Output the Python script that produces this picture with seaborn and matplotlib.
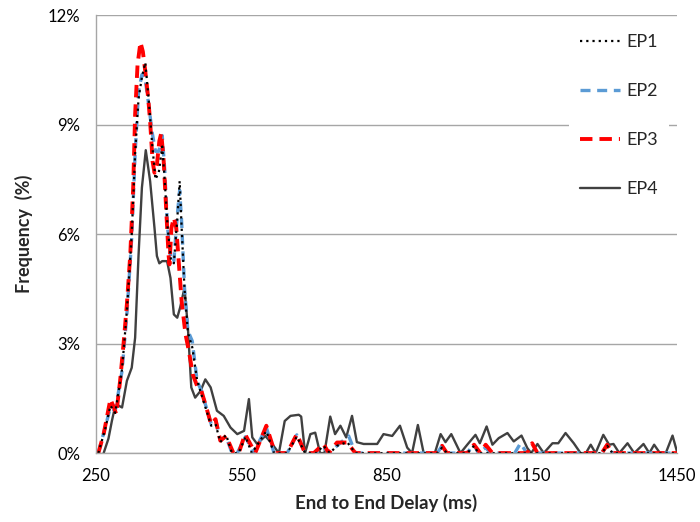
import pandas as pd
import seaborn as sns
import matplotlib.pyplot as plt
from matplotlib.ticker import FuncFormatter

# End-to-end delay (ms) vs frequency (%)
ep1_x = [255, 269, 280, 290, 304, 314, 324, 331, 338, 345, 352, 359, 366, 373, 380,
         387, 392, 398, 405, 411, 418, 423, 427, 433, 440, 449, 459, 468, 480, 488,
         497, 507, 519, 531, 545, 559, 572, 602, 618, 645, 665, 682, 705, 720, 733,
         748, 769, 786, 955, 965, 975, 1017, 1031, 1040, 1295, 1306, 1317, 1450]
ep1_y = [0, 0.65, 1.3, 1.1, 2.3, 3.9, 6.0, 8.2, 9.7, 10.3, 10.7, 9.7, 8.5, 7.5, 7.7,
         8.4, 7.5, 6.2, 5.3, 5.2, 6.4, 7.45, 6.2, 4.5, 3.3, 2.9, 2.0, 1.6, 1.1, 0.75,
         0.8, 0.3, 0.5, 0, 0, 0.45, 0, 0.6, 0, 0, 0.45, 0, 0, 0.2, 0,
         0.2, 0.3, 0, 0, 0.15, 0, 0, 0.2, 0, 0, 0.2, 0, 0]

ep2_x = [255, 269, 280, 290, 304, 314, 324, 331, 338, 345, 351, 359, 366, 373, 380,
         387, 392, 398, 405, 411, 418, 423, 427, 433, 440, 449, 459, 468, 480, 488,
         497, 507, 519, 531, 542, 559, 575, 602, 618, 645, 665, 682, 705, 720, 733,
         748, 772, 786, 955, 965, 975, 1017, 1030, 1040, 1055, 1065, 1115, 1127, 1140,
         1295, 1306, 1317, 1450]
ep2_y = [0, 0.7, 1.25, 1.16, 2.25, 3.8, 5.9, 8.2, 9.9, 10.37, 10.32, 9.55, 8.8, 8.27, 8.27,
         8.7, 7.8, 6.17, 5.26, 5.26, 6.5, 7.2, 6.36, 4.53, 3.35, 3.07, 1.98, 1.7, 1.16, 0.8,
         0.93, 0.35, 0.45, 0, 0, 0.45, 0, 0.7, 0, 0, 0.5, 0, 0, 0.15, 0,
         0.2, 0.47, 0, 0, 0.2, 0, 0, 0.25, 0, 0.15, 0, 0, 0.27, 0,
         0, 0.23, 0, 0]

ep3_x = [255, 266, 280, 287, 292, 300, 307, 314, 321, 327, 331, 336, 342, 347, 352,
         358, 362, 367, 371, 376, 381, 385, 390, 395, 400, 402, 406, 411, 416, 421,
         427, 435, 442, 450, 459, 468, 480, 488, 497, 507, 519, 534, 545, 558, 579,
         602, 620, 645, 665, 682, 700, 720, 731, 748, 769, 786, 955, 965, 975,
         1017, 1031, 1044, 1055, 1069, 1141, 1151, 1162, 1295, 1306, 1317, 1450]
ep3_y = [0, 0.52, 1.48, 1.25, 1.07, 1.98, 2.98, 4.08, 5.44, 7.27, 9.28, 10.64, 11.26, 11.0, 10.46,
         9.73, 9.09, 8.0, 7.68, 7.9, 8.55, 8.77, 8.0, 6.72, 5.44, 5.17, 6.17, 6.45, 6.17, 5.26,
         4.17, 3.26, 2.8, 2.16, 1.84, 1.7, 1.16, 0.79, 0.93, 0.34, 0.47, 0, 0, 0.52, 0,
         0.75, 0, 0, 0.52, 0, 0, 0.25, 0, 0.29, 0.29, 0, 0, 0.2, 0,
         0, 0.23, 0, 0.23, 0, 0, 0.27, 0, 0, 0.23, 0, 0]

ep4_x = [266, 276, 283, 290, 297, 304, 314, 324, 331, 338, 345, 353, 362, 371, 376,
         381, 387, 397, 404, 411, 418, 424, 433, 440, 447, 455, 466, 476, 487, 500,
         514, 528, 542, 556, 566, 573, 583, 600, 614, 628, 640, 652, 669, 674, 682,
         693, 703, 713, 722, 734, 744, 755, 767, 779, 789, 803, 831, 844, 862, 878,
         893, 903, 915, 927, 950, 962, 972, 984, 1003, 1017, 1034, 1043, 1057, 1069, 1082,
         1100, 1113, 1129, 1141, 1149, 1162, 1175, 1193, 1205, 1220, 1237, 1251, 1262, 1272, 1282,
         1298, 1310, 1319, 1331, 1348, 1362, 1381, 1393, 1403, 1415, 1427, 1441, 1451]
ep4_y = [0, 0.4, 0.88, 1.3, 1.3, 1.25, 1.98, 2.34, 3.16, 5.4, 7.27, 8.3, 7.45, 6.17, 5.4,
         5.2, 5.26, 5.26, 4.8, 3.8, 3.71, 3.99, 4.53, 3.44, 1.8, 1.52, 1.7, 2.02, 1.8, 1.16,
         1.02, 0.7, 0.52, 0.61, 1.48, 0.43, 0.25, 0.47, 0.25, 0, 0.88, 1.02, 1.05, 1.0, 0,
         0.52, 0.56, 0, 0, 1.0, 0.52, 0.75, 0.43, 1.02, 0.3, 0.25, 0.25, 0.52, 0.47, 0.75,
         0.15, 0, 0.77, 0, 0, 0.52, 0.3, 0.52, 0, 0.23, 0.5, 0.27, 0.73, 0.23, 0.41,
         0.55, 0.32, 0.48, 0.14, 0, 0.25, 0, 0.27, 0.27, 0.55, 0.27, 0, 0, 0.23, 0,
         0.5, 0.23, 0.25, 0, 0.27, 0, 0.25, 0, 0.23, 0, 0, 0.48, 0]

x_ticks = [250, 550, 850, 1150, 1450]
y_ticks = [0, 3, 6, 9, 12]

sns.set_style('white')
plt.rcParams['font.family'] = ['Lato', 'DejaVu Sans']

fig, ax = plt.subplots(figsize=(7, 5.22), dpi=100)
fig.subplots_adjust(left=0.137, right=0.967, top=0.971, bottom=0.132)

sns.lineplot(x=ep4_x, y=ep4_y, ax=ax, color='#404040', lw=1.7, label='EP4', sort=False)
sns.lineplot(x=ep2_x, y=ep2_y, ax=ax, color='#5b9bd5', lw=2.4, linestyle=(0, (3, 2)),
             label='EP2', sort=False)
sns.lineplot(x=ep3_x, y=ep3_y, ax=ax, color='#ff0000', lw=2.8, linestyle=(0, (3.2, 1.8)),
             label='EP3', sort=False)
sns.lineplot(x=ep1_x, y=ep1_y, ax=ax, color='black', lw=1.6, linestyle=(0, (1, 1.8)),
             label='EP1', sort=False)

ax.set_xlim(250, 1450)
ax.set_ylim(0, 12)
ax.set_xticks(x_ticks)
ax.set_yticks(y_ticks)
ax.yaxis.set_major_formatter(FuncFormatter(lambda v, p: f'{v:.0f}%'))

ax.grid(axis='y', color='#a6a6a6', lw=1)
ax.set_axisbelow(True)
for s in ['top', 'right']:
    ax.spines[s].set_visible(False)
for s in ['left', 'bottom']:
    ax.spines[s].set_color('#a6a6a6')
    ax.spines[s].set_linewidth(1)
ax.tick_params(axis='both', which='major', direction='out', length=5, width=1,
               color='#a6a6a6', labelsize=12, labelcolor='black', pad=6)

ax.set_xlabel('End to End Delay (ms)', fontsize=13.5, fontweight='bold', labelpad=7)
ax.set_ylabel('Frequency  (%)', fontsize=13, fontweight='bold', labelpad=11)

handles, labels = ax.get_legend_handles_labels()
order = [labels.index(n) for n in ['EP1', 'EP2', 'EP3', 'EP4']]
leg = ax.legend([handles[i] for i in order], [labels[i] for i in order],
                loc='upper left', bbox_to_anchor=(0.80, 0.972), bbox_transform=fig.transFigure,
                fontsize=13, handlelength=2.2, labelspacing=1.82, handletextpad=0.4,
                frameon=True, facecolor='white', edgecolor='none', framealpha=1,
                borderpad=0.6)

fig.savefig('out.png', dpi=100)
